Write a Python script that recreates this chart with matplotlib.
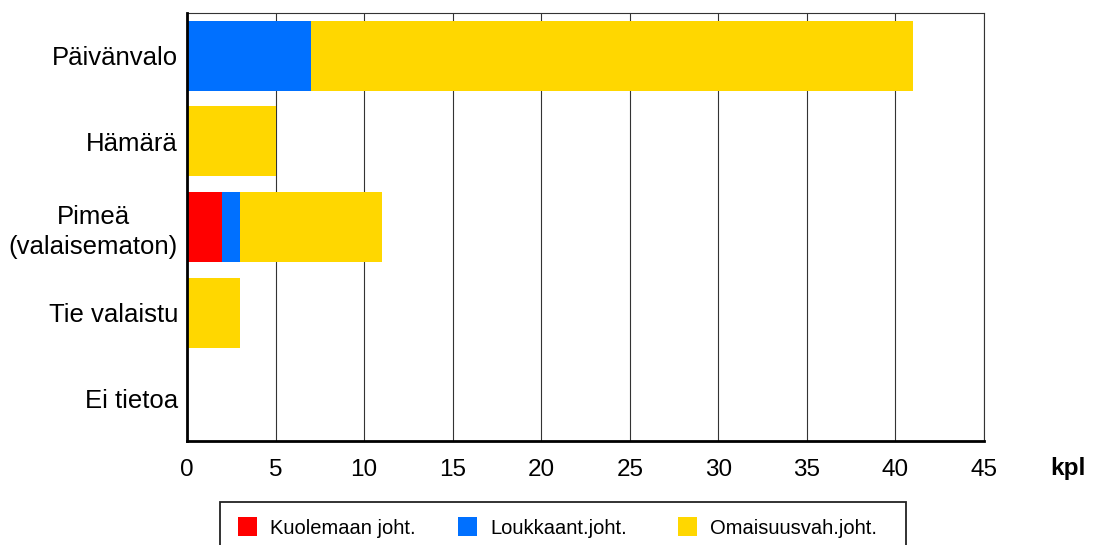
import matplotlib
matplotlib.use("Agg")
import matplotlib.pyplot as plt
from matplotlib.patches import Rectangle
import numpy as np

plt.rcParams['font.family'] = ['Liberation Sans', 'DejaVu Sans']

categories = ["Päivänvalo", "Hämärä", "Pimeä\n(valaisematon)", "Tie valaistu", "Ei tietoa"]
series_names = ["Kuolemaan joht.", "Loukkaant.joht.", "Omaisuusvah.joht."]
kuolemaan = [0, 0, 2, 0, 0]
loukkaant = [7, 0, 1, 0, 0]
omaisuus = [34, 5, 8, 3, 0]
colors = ["#FF0000", "#0070FF", "#FFD700"]
xticks = [0, 5, 10, 15, 20, 25, 30, 35, 40, 45]

W, H = 1097, 545
fig = plt.figure(figsize=(W/100, H/100), dpi=100)
ax = fig.add_axes([187/W, 1 - 441/H, (984-187)/W, (441-13)/H])

y = np.arange(len(categories))
left = np.zeros(len(categories))
for vals, col, name in zip([kuolemaan, loukkaant, omaisuus], colors, series_names):
    ax.barh(y, vals, left=left, height=0.82, color=col, label=name, zorder=3)
    left += np.array(vals)

ax.set_ylim(len(categories) - 0.5, -0.5)
ax.set_xlim(0, 45)
ax.set_xticks(xticks)
ax.set_xticklabels([str(t) for t in xticks], fontsize=17.5)
ax.set_yticks(y)
ax.set_yticklabels(categories, fontsize=18.5)
for lbl in ax.get_yticklabels():
    lbl.set_multialignment('center')
    lbl.set_linespacing(1.3)
ax.tick_params(axis='both', length=0)
ax.tick_params(axis='x', pad=13)
ax.tick_params(axis='y', pad=6.5)
ax.grid(axis='x', color='#333333', linewidth=0.8, zorder=1)
ax.grid(axis='y', visible=False)
for s in ['top', 'right']:
    ax.spines[s].set_linewidth(0.8)
    ax.spines[s].set_color('#333333')
for s in ['left', 'bottom']:
    ax.spines[s].set_linewidth(2)
    ax.spines[s].set_color('black')
    ax.spines[s].set_zorder(4)

fig.text(1068/W, 1 - 468/H, "kpl", fontsize=17.5, fontweight='bold', ha='center', va='center')

# legend box
fig.patches.append(Rectangle((220/W, 1 - 560/H), (906-220)/W, (560-502)/H,
                             transform=fig.transFigure, facecolor='white',
                             edgecolor='#222222', linewidth=1.3))
sq = 19
for i, (name, col) in enumerate(zip(series_names, colors)):
    x0 = 238 + 220 * i
    fig.patches.append(Rectangle((x0/W, 1 - 536/H), sq/W, sq/H,
                                 transform=fig.transFigure, facecolor=col, edgecolor='none'))
    fig.text((x0 + 32)/W, 1 - 528/H, name, fontsize=14.5, ha='left', va='center')

fig.savefig("out.png", dpi=100)
